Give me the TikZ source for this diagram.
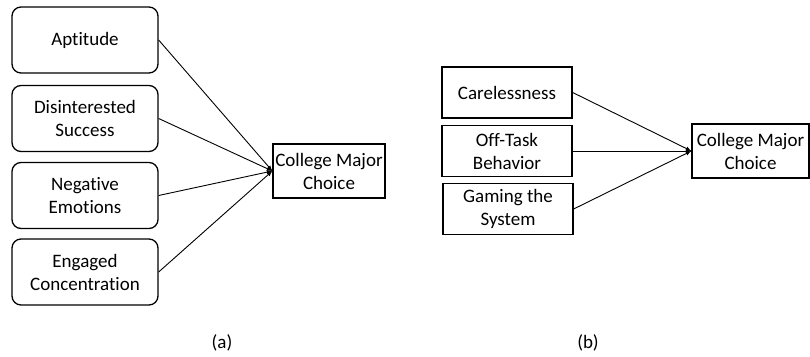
\documentclass[tikz,border=0pt]{standalone}
\usepackage{fontspec}
\setmainfont{Carlito}[Ligatures=NoCommon]
\usetikzlibrary{positioning,arrows}

\begin{document}
\begin{tikzpicture}[x=1pt,y=-1pt,every node/.style = {draw, align=center, inner sep=0pt, font=\fontsize{19}{23}\selectfont, line width=1.3pt}, roundbox/.style={rounded corners=9pt, minimum width=146pt, minimum height=66pt}, sqbox/.style={minimum width=130pt, minimum height=51pt}, link/.style={->, >=latex, line width=0.9pt}]
\useasboundingbox (0,0) rectangle (810,356);
% (a)
\node[roundbox] (apt) at (85,40) {Aptitude};
\node[roundbox] (dis) at (85,118.5) {Disinterested\\Success};
\node[roundbox] (neg) at (85,195.5) {Negative\\Emotions};
\node[roundbox] (eng) at (85,272) {Engaged\\Concentration};
\node[minimum width=112pt, minimum height=54pt] (cmca) at (329,171) {College Major\\Choice};
\foreach \n in {apt,dis,neg,eng} \draw[link] (\n.east) -- (cmca.west);
\node[draw=none] (laba) at (222,343) {(a)};
% (b)
\node[sqbox] (care) at (507,92.5) {Carelessness};
\node[sqbox] (off) at (507,151) {Off-Task\\Behavior};
\node[sqbox] (game) at (508,209) {Gaming the\\System};
\node[minimum width=117pt, minimum height=54pt] (cmcb) at (750.5,151) {College Major\\Choice};
\foreach \n in {care,off,game} \draw[link] (\n.east) -- (cmcb.west);
\node[draw=none] (labb) at (588,343) {(b)};
\end{tikzpicture}
\end{document}
